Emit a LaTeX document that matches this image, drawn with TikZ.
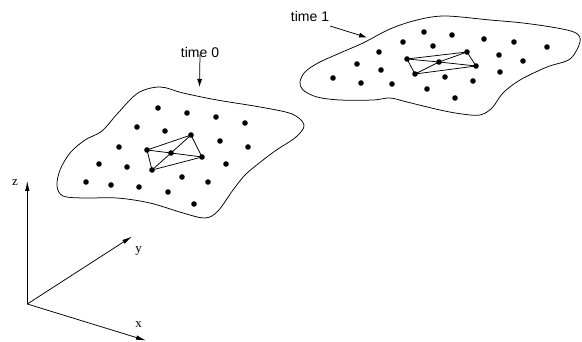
\documentclass[tikz,border=0pt]{standalone}
\usepackage{fontspec}
\setmainfont{Liberation Serif}
\newfontfamily\sansf{Liberation Sans}
\usetikzlibrary{arrows.meta}
\begin{document}
\begin{tikzpicture}[x=1pt,y=-1pt,
  dot/.style={circle,fill=black,inner sep=0pt,minimum size=5.6pt},
  blob/.style={line width=0.75pt},
  mesh/.style={line width=0.75pt},
  timelabel/.style={font=\sansf\fontsize{14}{16}\selectfont,inner sep=1pt},
  axlabel/.style={font=\fontsize{13}{15}\selectfont,inner sep=0pt},
  tarr/.style={line width=0.75pt,-{Latex[length=8pt,width=5pt]}},
  axarr/.style={line width=0.75pt,-{Latex[length=10pt,width=4.5pt]}}]
\useasboundingbox (0,0) rectangle (582,342);
% left blob outline
\draw[blob] plot[smooth cycle,tension=0.55] coordinates {
 (138,93) (160,87) (183,93) (217,100) (260,107) (292,114) (304,125)
 (296,137) (275,151) (258,164) (245,175) (233,190) (218,211) (205,218)
 (183,213) (150,203) (117,198) (83,198) (63,196) (57,186) (60,170)
 (70,153) (85,140) (102,131) (118,113)};
% right blob outline
\draw[blob] plot[smooth cycle,tension=0.55] coordinates {
 (300,82) (305,72) (318,63) (340,53) (363,43) (390,29) (417,20)
 (445,16) (490,20) (523,23) (557,28) (576,33) (580,42) (570,59)
 (547,67) (520,80) (503,93) (492,108) (480,115) (462,114) (440,110)
 (407,102) (390,98) (373,100) (340,100) (317,97) (303,90)};
% left dots
\foreach \n/\p in {L1/{(158,108)},L2/{(187,113)},L3/{(216,117)},L4/{(245,123)},
  L5/{(137,127)},L6/{(165,131)},LB/{(191,135)},L8/{(220,141)},L9/{(248,147)},
  L10/{(119,147)},LA/{(147,150)},LC/{(171,153)},LD/{(202,157)},L14/{(226,164)},
  L15/{(99,164)},L16/{(127,167)},LE/{(152,170)},L18/{(182,177)},L19/{(208,182)},
  L20/{(86,182)},L21/{(111,185)},L22/{(139,187)},L23/{(168,192)},L24/{(194,204)}}
  \node[dot] (\n) at \p {};
% right dots
\foreach \n/\p in {R1/{(424,32)},R2/{(452,35)},R3/{(403,42)},R4/{(433,46)},
  R5/{(484,39)},R6/{(514,42)},R7/{(547,47)},R8/{(379,52)},RA/{(407,59)},
  RC/{(439,62)},RB/{(467,52)},RD/{(476,66)},R13/{(499,55)},R14/{(523,61)},
  R15/{(357,64)},R16/{(381,70)},RE/{(415,74)},R18/{(445,77)},R19/{(473,81)},
  R20/{(500,72)},R21/{(333,78)},R22/{(361,83)},R23/{(392,84)},R24/{(427,89)},
  R25/{(455,98)}}
  \node[dot] (\n) at \p {};
% meshes
\foreach \s in {L,R}{
  \draw[mesh] (\s A.center) -- (\s B.center) -- (\s D.center) -- (\s E.center) -- cycle;
  \draw[mesh] (\s A.center) -- (\s C.center) -- (\s D.center);
  \draw[mesh] (\s B.center) -- (\s C.center) -- (\s E.center);
}
% time labels
\node[timelabel] (t0) at (200,52) {time 0};
\coordinate (t0end) at (199.5,87);
\draw[tarr] (t0.south) ++(0,-4) coordinate (t0s) (t0s) -- (t0end);
\node[timelabel] (t1) at (310,16) {time 1};
\coordinate (t1s) at (330,26);
\coordinate (t1end) at (367,37.5);
\draw[tarr] (t1s) -- (t1end);
% axes
\coordinate (O) at (27.3,304);
\coordinate (zend) at (27.3,181);
\coordinate (yend) at (132,236.5);
\coordinate (xend) at (146,340.5);
\draw[axarr] (O) -- (zend);
\draw[axarr] (O) -- (yend);
\draw[axarr] (O) -- (xend);
\node[axlabel] (zl) at (15,183) {z};
\node[axlabel] (yl) at (138.5,251) {y};
\node[axlabel] (xl) at (138.5,325) {x};
\end{tikzpicture}
\end{document}
